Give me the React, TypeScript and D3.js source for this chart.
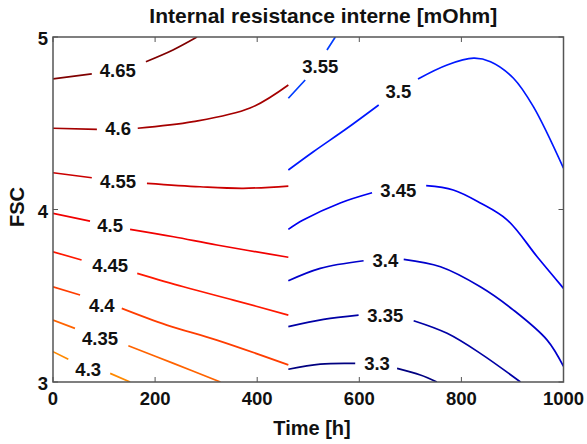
import React, { useEffect } from 'react';
import * as d3 from 'd3';

const W = 587;
const H = 444;
const title = 'Internal resistance interne [mOhm]';
const xLabel = 'Time [h]';
const yLabel = 'FSC';
const xDomain = [0, 1000];
const yDomain = [3, 5];
const xTicks = [0, 200, 400, 600, 800, 1000];
const yTicks = [3, 4, 5];

const G: [number, number] = [NaN, NaN]; // label gap

const levels = [4.65, 4.6, 4.55, 4.5, 4.45, 4.4, 4.35, 4.3, 3.55, 3.5, 3.45, 3.4, 3.35, 3.3];

const c465 = [[0, 4.757], [76, 4.786], G, [182, 4.857], [235, 4.925], [282, 5.0]];
const c460 = [[0, 4.471], [86, 4.465], G, [166, 4.471], [274.5, 4.509], [386, 4.588], [461, 4.722]];
const c455 = [[0, 4.213], [76, 4.184], G, [184, 4.152], [288, 4.132], [372.5, 4.123], [461, 4.136]];
const c450 = [[0, 3.978], [72.5, 3.933], G, [151, 3.885], [236, 3.842], [321, 3.794], [461, 3.723]];
const c445 = [[0, 3.755], [56, 3.707], G, [165, 3.63], [255.5, 3.552], [353.5, 3.475], [461, 3.388]];
const c440 = [[0, 3.552], [53, 3.504], G, [134.7, 3.427], [223, 3.33], [321, 3.243], [461, 3.099]];
const c435 = [[0, 3.359], [43, 3.311], G, [147.6, 3.21], [236, 3.108], [328, 3.0]];
const c430 = [[0, 3.176], [30, 3.132], G, [112, 3.05], [151, 3.0]];
const c355 = [[461, 4.645], [494, 4.751], G, [536.7, 4.925], [553, 5.0]];
const c350 = [[461, 4.229], [510, 4.335], [576, 4.471], [638, 4.606], G, [715, 4.757], [772, 4.838], [824, 4.877], [857, 4.857], [902, 4.761], [941, 4.596], [1000, 4.239]];
const c345 = [[461, 3.885], [490, 3.939], [562.7, 4.038], [625, 4.097], G, [731, 4.138], [784, 4.113], [837, 4.038], [890, 3.939], [950, 3.72], [1000, 3.543]];
const c340 = [[461, 3.587], [523.5, 3.659], [608.4, 3.703], G, [687, 3.711], [759, 3.668], [837, 3.552], [902, 3.417], [968, 3.243], [1000, 3.09]];
const c335 = [[461, 3.321], [530, 3.363], [598.6, 3.388], G, [706.5, 3.355], [772, 3.282], [837, 3.166], [915.7, 3.0]];
const c330 = [[461, 3.074], [523.5, 3.104], [592, 3.108], G, [674, 3.079], [719.6, 3.041], [752, 3.0]];

const contours = [c465, c460, c455, c450, c445, c440, c435, c430, c355, c350, c345, c340, c335, c330];

const labelText = ['4.65', '4.6', '4.55', '4.5', '4.45', '4.4', '4.35', '4.3', '3.55', '3.5', '3.45', '3.4', '3.35', '3.3'];
const labelPos = [
  [127, 4.805], [127.5, 4.467], [127.5, 4.161], [112, 3.91], [112, 3.678], [95.5, 3.446], [92, 3.253], [69, 3.07],
  [523.5, 4.828], [676.5, 4.683], [676.5, 4.109], [651, 3.707], [651, 3.388], [634.7, 3.108],
];

function jet(t: number): string {
  const cl = (v: number) => Math.max(0, Math.min(1, v));
  const r = cl(Math.min(4 * t - 1.5, -4 * t + 4.5));
  const g = cl(Math.min(4 * t - 0.5, -4 * t + 3.5));
  const b = cl(Math.min(4 * t + 0.5, -4 * t + 2.5));
  return d3.rgb(r * 255, g * 255, b * 255).formatHex();
}

const FONT = '"Liberation Sans", Arial, Helvetica, sans-serif';

export default function App() {
  useEffect(() => {
    document.body.style.margin = '0';
  }, []);

  const left = 53, right = 563.5, top = 37, bottom = 382;
  const x = d3.scaleLinear().domain(xDomain).range([left, right]);
  const y = d3.scaleLinear().domain(yDomain).range([bottom, top]);
  const lo = d3.min(levels)!, hi = d3.max(levels)!;
  const color = (v: number) => jet((v - lo) / (hi - lo));
  const line = d3
    .line<number[]>()
    .defined((d) => !isNaN(d[0]))
    .curve(d3.curveCatmullRom.alpha(0.5))
    .x((d) => x(d[0]))
    .y((d) => y(d[1]));

  const axisColor = '#555';
  const tickLen = 5;

  return (
    <svg width={W} height={H} style={{ position: 'absolute', left: 0, top: 0, background: '#fff' }} fontFamily={FONT}>
      <rect x={0} y={0} width={W} height={H} fill="#fff" />
      <defs>
        <clipPath id="plot">
          <rect x={left} y={top} width={right - left} height={bottom - top} />
        </clipPath>
      </defs>
      <g clipPath="url(#plot)">
        {contours.map((c, i) => (
          <path key={i} d={line(c as number[][]) || ''} fill="none" stroke={color(levels[i])} strokeWidth={1.7} strokeLinejoin="round" />
        ))}
      </g>
      {labelPos.map((p, i) => (
        <text key={i} x={x(p[0])} y={y(p[1]) + 6.5} textAnchor="middle" fontSize={18.5} fontWeight="bold" fill="#111">
          {labelText[i]}
        </text>
      ))}
      <rect x={left} y={top} width={right - left} height={bottom - top} fill="none" stroke={axisColor} strokeWidth={1.5} />
      {xTicks.map((t) => (
        <g key={'x' + t}>
          <line x1={x(t)} x2={x(t)} y1={bottom} y2={bottom - tickLen} stroke={axisColor} strokeWidth={1} />
          <line x1={x(t)} x2={x(t)} y1={top} y2={top + tickLen} stroke={axisColor} strokeWidth={1} />
          <text x={x(t)} y={bottom + 23} textAnchor="middle" fontSize={18.5} fontWeight="bold" fill="#111">
            {t}
          </text>
        </g>
      ))}
      {yTicks.map((t) => (
        <g key={'y' + t}>
          <line x1={left} x2={left + tickLen} y1={y(t)} y2={y(t)} stroke={axisColor} strokeWidth={1} />
          <line x1={right} x2={right - tickLen} y1={y(t)} y2={y(t)} stroke={axisColor} strokeWidth={1} />
          <text x={left - 5} y={y(t) + 8} textAnchor="end" fontSize={18.5} fontWeight="bold" fill="#111">
            {t}
          </text>
        </g>
      ))}
      <text x={(left + right) / 2 + 15} y={23} textAnchor="middle" fontSize={21} fontWeight="bold" fill="#111">
        {title}
      </text>
      <text x={312} y={435} textAnchor="middle" fontSize={20} fontWeight="bold" fill="#111">
        {xLabel}
      </text>
      <text transform={`translate(24, 207) rotate(-90)`} textAnchor="middle" fontSize={20} fontWeight="bold" fill="#111">
        {yLabel}
      </text>
    </svg>
  );
}
